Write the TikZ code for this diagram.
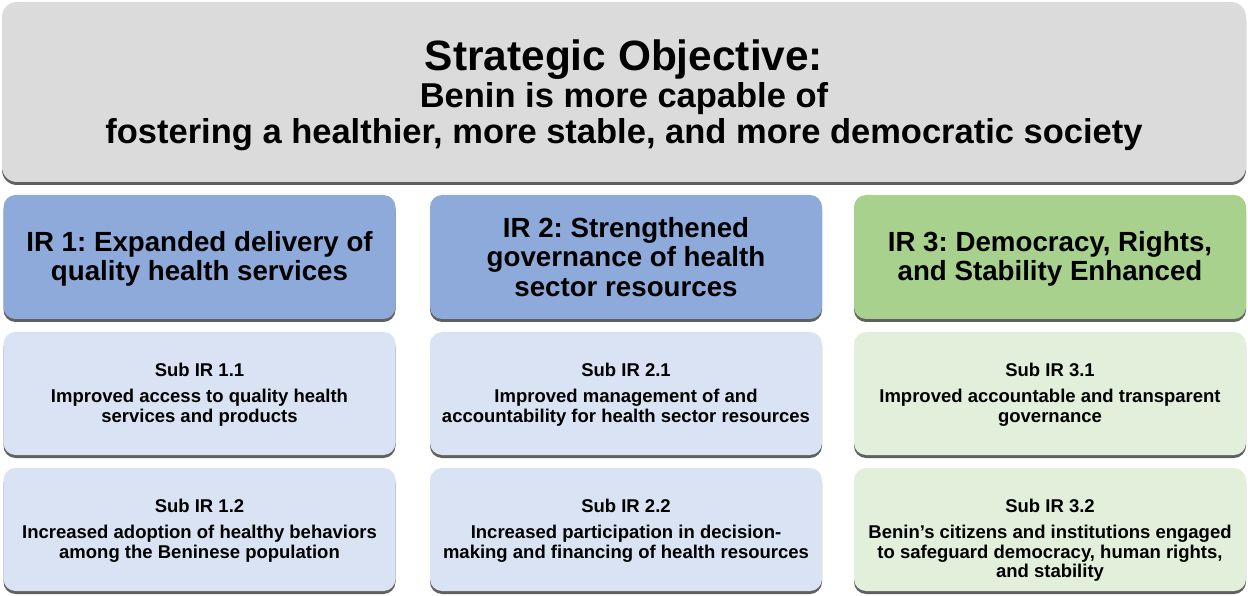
\documentclass[tikz,border=0pt]{standalone}
\usepackage{fontspec}
\setmainfont{Liberation Sans}
\usetikzlibrary{shadows}
\frenchspacing

\definecolor{objgray}{HTML}{DBDBDB}
\definecolor{irblue}{HTML}{8EAADB}
\definecolor{irgreen}{HTML}{A9D18E}
\definecolor{subblue}{HTML}{DAE3F3}
\definecolor{subgreen}{HTML}{E2EFDA}
\definecolor{shadowgray}{HTML}{606060}

\begin{document}
\begin{tikzpicture}[x=1pt,y=1pt]
% Box styles
\tikzset{
    box/.style={rounded corners=12pt, inner sep=0pt, align=center,
        drop shadow={shadow xshift=0pt, shadow yshift=-3pt, fill=shadowgray, opacity=1}},
    objbox/.style={box, fill=objgray, rounded corners=15pt,
        minimum width=1244pt, minimum height=180pt,
        font=\bfseries\fontsize{34.5}{36}\selectfont},
    irbox/.style={box, minimum width=392pt, minimum height=124pt,
        font=\bfseries\fontsize{27.7}{29.5}\selectfont},
    subbox/.style={box, minimum width=392pt, minimum height=123pt},
    subtext/.style={anchor=north, inner sep=0pt, align=center,
        font=\bfseries\fontsize{18.5}{19.5}\selectfont}
}
\useasboundingbox (0,0) rectangle (1248,595);

% Nodes
\node[objbox] (SO) at (624, 503) {\rule{0pt}{37pt}{\fontsize{42.4}{44}\selectfont Strategic Objective:}\\[1pt]
    Benin is more capable of\\
    fostering a healthier, more stable, and more democratic society};

\node[irbox, fill=irblue] (IR1) at (199.5, 338) {\rule{0pt}{24pt}IR 1: Expanded delivery of\\quality health services};
\node[irbox, fill=irblue] (IR2) at (626, 338) {IR 2: Strengthened\\governance of health\\sector resources};
\node[irbox, fill=irgreen] (IR3) at (1050, 338) {\rule{0pt}{24pt}IR 3: Democracy, Rights,\\and Stability Enhanced};

\node[subbox, fill=subblue] (SUB11) at (199.5, 201.5) {};
\node[subbox, fill=subblue] (SUB21) at (626, 201.5) {};
\node[subbox, fill=subgreen] (SUB31) at (1050, 201.5) {};
\node[subbox, fill=subblue] (SUB12) at (199.5, 65.5) {};
\node[subbox, fill=subblue] (SUB22) at (626, 65.5) {};
\node[subbox, fill=subgreen] (SUB32) at (1050, 65.5) {};

% Texts
\node[subtext] (T11) at ([yshift=-31pt]SUB11.north) {Sub IR 1.1\\[7pt]Improved access to quality health\\services and products};
\node[subtext] (T21) at ([yshift=-31pt]SUB21.north) {Sub IR 2.1\\[7pt]Improved management of and\\accountability for health sector resources};
\node[subtext] (T31) at ([yshift=-31pt]SUB31.north) {Sub IR 3.1\\[7pt]Improved accountable and transparent\\governance};
\node[subtext] (T12) at ([yshift=-31pt]SUB12.north) {Sub IR 1.2\\[7pt]Increased adoption of healthy behaviors\\among the Beninese population};
\node[subtext] (T22) at ([yshift=-31pt]SUB22.north) {Sub IR 2.2\\[7pt]Increased participation in decision-\\making and financing of health resources};
\node[subtext] (T32) at ([yshift=-31pt]SUB32.north) {Sub IR 3.2\\[7pt]Benin’s citizens and institutions engaged\\to safeguard democracy, human rights,\\and stability};
\end{tikzpicture}
\end{document}
